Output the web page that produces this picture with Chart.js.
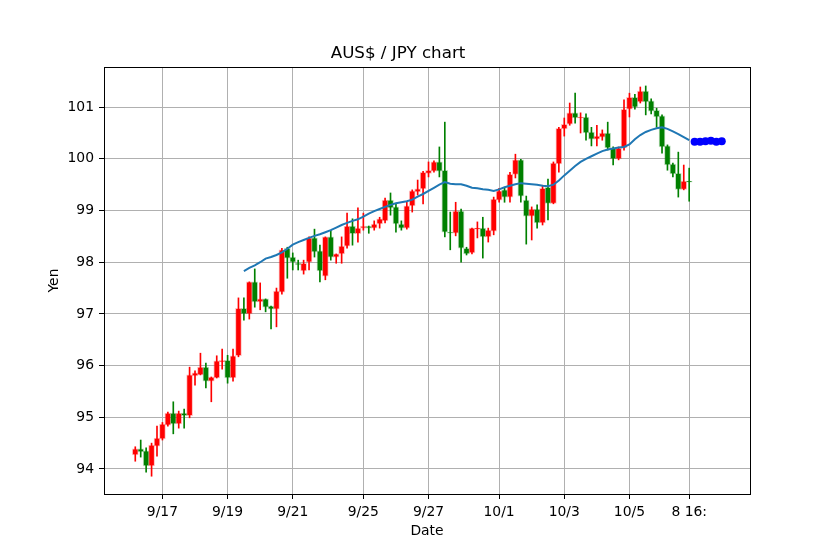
<!DOCTYPE html>
<html>
<head>
<meta charset="utf-8">
<title>AUS$ / JPY chart</title>
<script src="https://cdn.jsdelivr.net/npm/chart.js@4.4.0/dist/chart.umd.min.js"></script>
<style>
	body { margin: 0; background: #ffffff; }
	canvas { display: block; }
</style>
</head>
<body>
<canvas id="fxChart" width="834" height="556"></canvas>
<script type="text/javascript">
	// 4-hour candles, index 0 = first candle
	var opens = [
		94.27, 94.39, 94.35, 94.06, 94.44, 94.58, 94.85, 95.08, 94.87, 95.08,
		95.03, 95.80, 95.82, 95.97, 95.70, 95.76, 96.07, 96.10, 95.76, 96.19,
		97.11, 97.00, 97.62, 97.23, 97.29, 97.15, 97.09, 97.42, 98.27, 98.10,
		97.98, 97.83, 98.00, 98.47, 98.22, 97.73, 98.49, 98.10, 98.16, 98.31,
		98.70, 98.55, 98.66, 98.70, 98.66, 98.74, 98.80, 99.20, 99.07, 98.74,
		98.66, 99.09, 99.36, 99.42, 99.72, 99.76, 99.94, 99.78, 98.58, 98.56,
		98.99, 98.27, 98.18, 98.64, 98.66, 98.49, 98.60, 99.20, 99.40, 99.26,
		99.70, 99.98, 99.20, 98.89, 99.03, 98.76, 99.45, 99.14, 99.90, 100.58,
		100.67, 100.89, 100.79, 100.81, 100.52, 100.38, 100.42, 100.50, 100.21, 100.00,
		100.21, 100.96, 101.19, 101.10, 101.31, 101.12, 100.94, 100.83, 100.25, 99.90,
		99.72, 99.41, 99.57
	];
	var highs = [
		94.43, 94.56, 94.41, 94.50, 94.83, 94.90, 95.10, 95.30, 95.12, 95.16,
		95.97, 95.90, 96.24, 96.05, 95.78, 96.19, 96.32, 96.20, 96.32, 97.31,
		97.31, 97.62, 97.87, 97.60, 97.29, 97.15, 97.50, 98.27, 98.29, 98.18,
		98.04, 98.04, 98.49, 98.64, 98.33, 98.49, 98.62, 98.16, 98.49, 98.95,
		98.84, 99.05, 98.95, 98.70, 98.80, 98.87, 99.24, 99.34, 99.14, 98.80,
		99.16, 99.40, 99.59, 99.76, 99.94, 99.96, 100.23, 100.71, 98.97, 99.16,
		99.03, 98.29, 98.66, 98.78, 98.87, 98.66, 99.26, 99.43, 99.45, 99.74,
		100.09, 99.99, 99.28, 99.07, 99.11, 99.49, 99.61, 99.94, 100.61, 100.79,
		101.08, 101.27, 100.89, 100.87, 100.61, 100.65, 100.56, 100.71, 100.23, 100.23,
		101.14, 101.27, 101.25, 101.39, 101.41, 101.16, 100.98, 100.85, 100.27, 99.92,
		100.13, 99.88, 99.82
	];
	var lows = [
		94.15, 94.23, 93.94, 93.86, 94.25, 94.56, 94.83, 94.68, 94.79, 94.79,
		94.99, 95.62, 95.82, 95.57, 95.30, 95.76, 95.93, 95.66, 95.70, 96.17,
		96.88, 96.90, 97.13, 97.08, 97.04, 96.71, 96.75, 97.38, 97.69, 97.85,
		97.85, 97.77, 97.85, 98.10, 97.62, 97.66, 98.04, 97.98, 97.98, 98.27,
		98.33, 98.39, 98.62, 98.56, 98.62, 98.66, 98.76, 98.91, 98.58, 98.62,
		98.64, 98.97, 99.30, 99.13, 99.65, 99.74, 99.65, 98.49, 98.24, 98.51,
		98.00, 98.14, 98.16, 98.47, 98.08, 98.39, 98.53, 99.16, 99.16, 99.16,
		99.63, 99.16, 98.35, 98.43, 98.66, 98.72, 98.82, 99.13, 99.74, 100.44,
		100.65, 100.69, 100.50, 100.36, 100.25, 100.25, 100.36, 100.17, 99.88, 99.98,
		100.17, 100.81, 100.96, 101.08, 100.85, 100.87, 100.61, 100.11, 99.78, 99.65,
		99.26, 99.40, 99.18
	];
	var closes = [
		94.39, 94.33, 94.06, 94.46, 94.60, 94.87, 95.08, 94.87, 95.08, 95.03,
		95.82, 95.86, 95.97, 95.70, 95.78, 96.09, 96.10, 95.76, 96.19, 97.11,
		97.00, 97.62, 97.23, 97.29, 97.13, 97.09, 97.44, 98.24, 98.08, 98.00,
		97.95, 97.98, 98.47, 98.20, 97.83, 98.49, 98.10, 98.16, 98.31, 98.70,
		98.55, 98.66, 98.70, 98.66, 98.74, 98.84, 99.20, 99.05, 98.74, 98.66,
		99.09, 99.38, 99.42, 99.74, 99.78, 99.94, 99.76, 98.58, 98.56, 98.99,
		98.27, 98.16, 98.66, 98.66, 98.49, 98.62, 99.22, 99.38, 99.26, 99.70,
		99.98, 99.28, 98.89, 99.03, 98.76, 99.43, 99.14, 99.92, 100.59, 100.67,
		100.89, 100.79, 100.81, 100.50, 100.38, 100.44, 100.50, 100.21, 100.00, 100.21,
		100.96, 101.19, 101.00, 101.31, 101.10, 100.92, 100.81, 100.23, 99.88, 99.71,
		99.41, 99.57, 99.55
	];
	// moving average, starts at candle 20
	var maStart = 20;
	var maValues = [
		97.83, 97.89, 97.94, 98.00, 98.07, 98.10, 98.14, 98.19, 98.26, 98.34,
		98.39, 98.43, 98.47, 98.51, 98.54, 98.58, 98.62, 98.67, 98.72, 98.76,
		98.80, 98.83, 98.88, 98.94, 98.99, 99.03, 99.07, 99.11, 99.14, 99.16,
		99.18, 99.21, 99.27, 99.32, 99.38, 99.44, 99.50, 99.55, 99.52, 99.51,
		99.51, 99.48, 99.44, 99.43, 99.41, 99.40, 99.38, 99.41, 99.45, 99.48,
		99.51, 99.53, 99.52, 99.51, 99.50, 99.48, 99.47, 99.50, 99.58, 99.68,
		99.77, 99.86, 99.94, 100.00, 100.05, 100.10, 100.15, 100.18, 100.20, 100.22,
		100.23, 100.28, 100.38, 100.46, 100.52, 100.56, 100.59, 100.61, 100.58, 100.53,
		100.48, 100.42, 100.36
	];
	// forecast dots after the last candle
	var forecastStart = 103;
	var forecastValues = [100.33, 100.33, 100.34, 100.35, 100.33, 100.34];

	var xTickIndex = [5, 17, 29, 42, 54, 67, 79, 91, 102];
	var xTickLabels = ['9/17', '9/19', '9/21', '9/25', '9/27', '10/1', '10/3', '10/5', '8 16:'];
	var yTicks = [94, 95, 96, 97, 98, 99, 100, 101];

	var upColor = '#ff0000', downColor = '#008000';
	var upEdge = 'rgba(255, 0, 0, 0.25)', downEdge = 'rgba(0, 128, 0, 0.25)';

	var bodies = [], wicks = [], bodyColors = [], edgeColors = [];
	for (var i = 0; i < opens.length; i++) {
		var up = closes[i] >= opens[i];
		bodies.push({ x: i, y: [opens[i], closes[i]] });
		wicks.push({ x: i, y: [lows[i], highs[i]] });
		bodyColors.push(up ? upColor : downColor);
		edgeColors.push(up ? upEdge : downEdge);
	}
	var maPoints = maValues.map(function(v, k) { return { x: maStart + k, y: v }; });
	var forecastPoints = forecastValues.map(function(v, k) { return { x: forecastStart + k, y: v }; });

	var font = 'DejaVu Sans';

	var framePlugin = {
		id: 'frame',
		afterDraw: function(chart) {
			var a = chart.chartArea, c = chart.ctx;
			c.save();
			c.strokeStyle = '#000000';
			c.lineWidth = 1;
			c.strokeRect(Math.round(a.left) + 0.5, Math.round(a.top) + 0.5,
				Math.round(a.right - a.left), Math.round(a.bottom - a.top));
			c.restore();
		}
	};

	var ctx = document.getElementById('fxChart').getContext('2d');
	var chart = new Chart(ctx, {
		type: 'bar',
		data: {
			datasets: [
				{
					type: 'line',
					data: maPoints,
					borderColor: '#1f77b4',
					borderWidth: 2,
					pointRadius: 0,
					tension: 0,
					fill: false,
					order: 0
				},
				{
					type: 'line',
					data: forecastPoints,
					showLine: false,
					pointRadius: 4,
					pointBackgroundColor: '#0000ff',
					pointBorderColor: '#0000ff',
					pointBorderWidth: 0,
					order: 0
				},
				{
					data: bodies,
					backgroundColor: bodyColors,
					borderColor: edgeColors,
					borderWidth: 1,
					borderSkipped: false,
					barThickness: 6,
					minBarLength: 1,
					grouped: false,
					order: 1
				},
				{
					data: wicks,
					backgroundColor: bodyColors,
					borderWidth: 0,
					barThickness: 1,
					grouped: false,
					order: 2
				}
			]
		},
		options: {
			responsive: false,
			animation: false,
			layout: { padding: { left: 46, right: 84, top: 0, bottom: 16 } },
			plugins: {
				legend: { display: false },
				tooltip: { enabled: false },
				title: {
					display: true,
					text: 'AUS$ / JPY chart',
					color: '#000000',
					font: { family: font, size: 16.7, weight: 'normal' },
					padding: { top: 44, bottom: 3 }
				}
			},
			scales: {
				x: {
					type: 'linear',
					min: -5.76,
					max: 113.2,
					offset: false,
					afterBuildTicks: function(scale) {
						scale.ticks = xTickIndex.map(function(v) { return { value: v }; });
					},
					afterFit: function(scale) { scale.height = 46; },
					grid: { color: '#b0b0b0', tickColor: '#000000', tickLength: 5, offset: false },
					border: { display: false },
					ticks: {
						autoSkip: false,
						maxRotation: 0,
						padding: 5,
						color: '#000000',
						font: { family: font, size: 13.9 },
						callback: function(value) {
							var k = xTickIndex.indexOf(value);
							return k >= 0 ? xTickLabels[k] : '';
						}
					},
					title: {
						display: true,
						text: 'Date',
						color: '#000000',
						font: { family: font, size: 13.9 },
						padding: 0
					}
				},
				y: {
					type: 'linear',
					min: 93.516,
					max: 101.776,
					afterBuildTicks: function(scale) {
						scale.ticks = yTicks.map(function(v) { return { value: v }; });
					},
					afterFit: function(scale) { scale.width = 58; },
					grid: { color: '#b0b0b0', tickColor: '#000000', tickLength: 5 },
					border: { display: false },
					ticks: {
						padding: 5,
						color: '#000000',
						font: { family: font, size: 13.9 }
					},
					title: {
						display: true,
						text: 'Yen',
						color: '#000000',
						font: { family: font, size: 13.9 },
						padding: 0
					}
				}
			}
		},
		plugins: [framePlugin]
	});
</script>
</body>
</html>
